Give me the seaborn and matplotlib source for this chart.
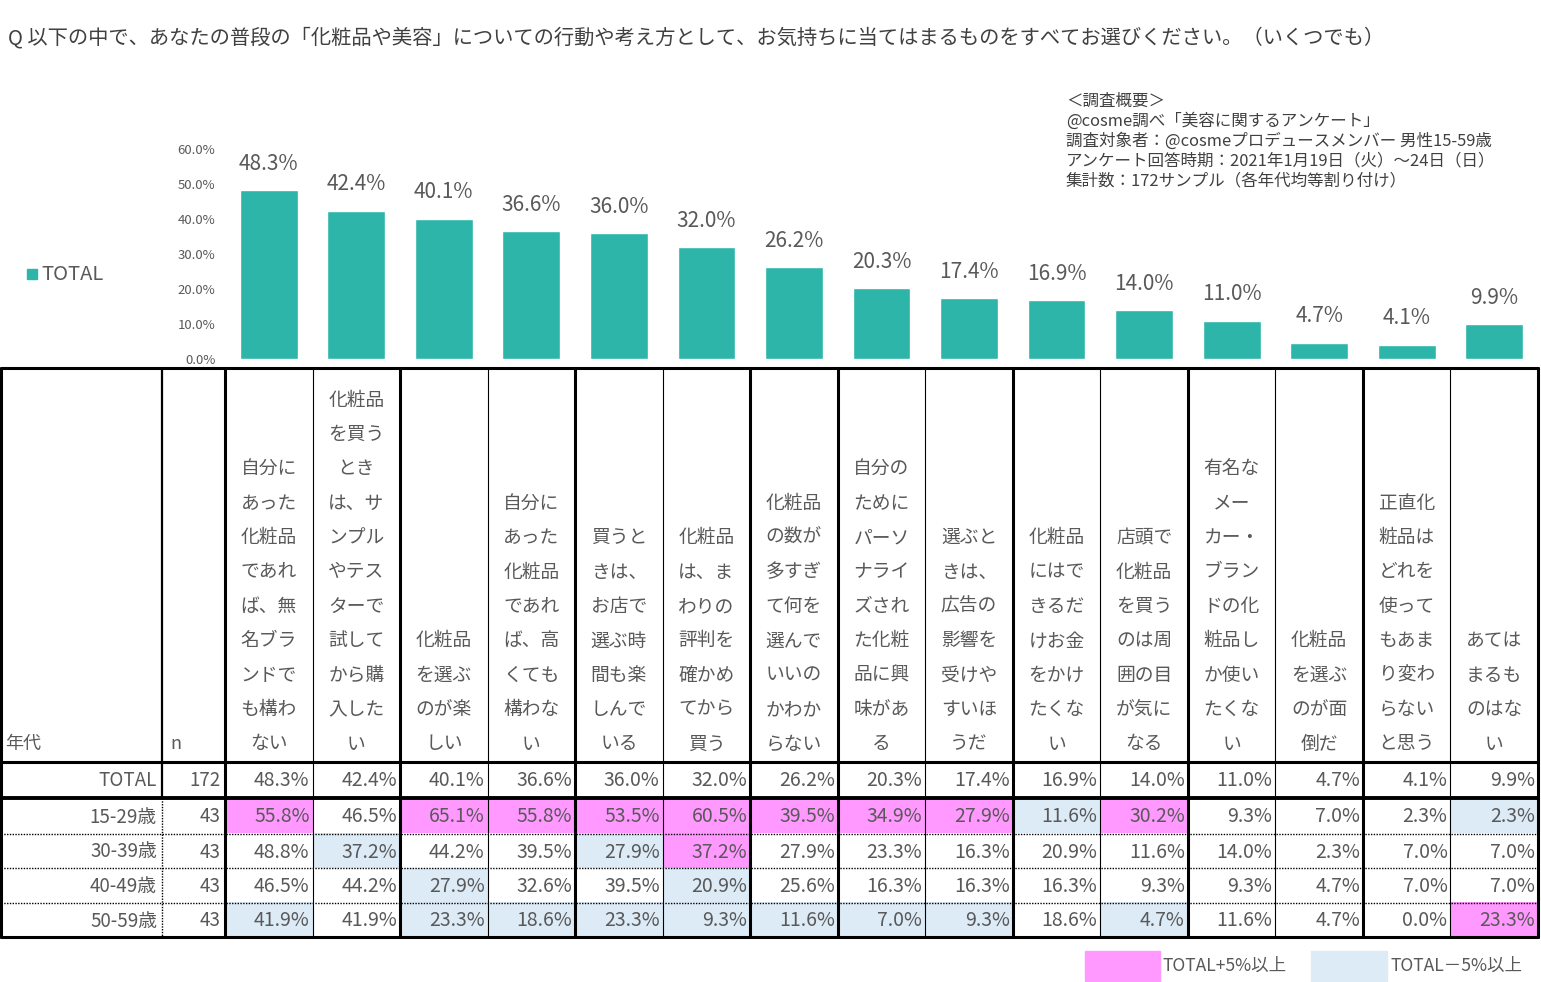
import numpy as np
import pandas as pd
import matplotlib
matplotlib.use("Agg")
import matplotlib.pyplot as plt
import seaborn as sns
from matplotlib.colors import ListedColormap
from matplotlib.patches import Rectangle

# ---------------- data ----------------
categories = [
    "自分に\nあった\n化粧品\nであれ\nば、無\n名ブラ\nンドで\nも構わ\nない",
    "化粧品\nを買う\nとき\nは、サ\nンプル\nやテス\nターで\n試して\nから購\n入した\nい",
    "化粧品\nを選ぶ\nのが楽\nしい",
    "自分に\nあった\n化粧品\nであれ\nば、高\nくても\n構わな\nい",
    "買うと\nきは、\nお店で\n選ぶ時\n間も楽\nしんで\nいる",
    "化粧品\nは、ま\nわりの\n評判を\n確かめ\nてから\n買う",
    "化粧品\nの数が\n多すぎ\nて何を\n選んで\nいいの\nかわか\nらない",
    "自分の\nために\nパーソ\nナライ\nズされ\nた化粧\n品に興\n味があ\nる",
    "選ぶと\nきは、\n広告の\n影響を\n受けや\nすいほ\nうだ",
    "化粧品\nにはで\nきるだ\nけお金\nをかけ\nたくな\nい",
    "店頭で\n化粧品\nを買う\nのは周\n囲の目\nが気に\nなる",
    "有名な\nメー\nカー・\nブラン\nドの化\n粧品し\nか使い\nたくな\nい",
    "化粧品\nを選ぶ\nのが面\n倒だ",
    "正直化\n粧品は\nどれを\n使って\nもあま\nり変わ\nらない\nと思う",
    "あては\nまるも\nのはな\nい",
]
total = [48.3, 42.4, 40.1, 36.6, 36.0, 32.0, 26.2, 20.3, 17.4, 16.9, 14.0, 11.0, 4.7, 4.1, 9.9]
n_total = 172
age_groups = ["15-29歳", "30-39歳", "40-49歳", "50-59歳"]
n_age = [43, 43, 43, 43]
age_15_29 = [55.8, 46.5, 65.1, 55.8, 53.5, 60.5, 39.5, 34.9, 27.9, 11.6, 30.2, 9.3, 7.0, 2.3, 2.3]
age_30_39 = [48.8, 37.2, 44.2, 39.5, 27.9, 37.2, 27.9, 23.3, 16.3, 20.9, 11.6, 14.0, 2.3, 7.0, 7.0]
age_40_49 = [46.5, 44.2, 27.9, 32.6, 39.5, 20.9, 25.6, 16.3, 16.3, 16.3, 9.3, 9.3, 4.7, 7.0, 7.0]
age_50_59 = [41.9, 41.9, 23.3, 18.6, 23.3, 9.3, 11.6, 7.0, 9.3, 18.6, 4.7, 11.6, 4.7, 0.0, 23.3]
y_ticks = [0, 10, 20, 30, 40, 50, 60]

title = "Q 以下の中で、あなたの普段の「化粧品や美容」についての行動や考え方として、お気持ちに当てはまるものをすべてお選びください。（いくつでも）"
summary = [
    "＜調査概要＞",
    "@cosme調べ「美容に関するアンケート」",
    "調査対象者：@cosmeプロデュースメンバー 男性15-59歳",
    "アンケート回答時期：2021年1月19日（火）～24日（日）",
    "集計数：172サンプル（各年代均等割り付け）",
]
legend_labels = ["TOTAL+5%以上", "TOTAL－5%以上"]

# ---------------- style ----------------
sns.set_theme(style="white")
plt.rcParams["font.family"] = ["Noto Sans CJK JP", "DejaVu Sans"]

TEAL = "#2DB5AA"
PINK = "#FF99FF"
BLUE = "#DDEBF7"
GRAY = "#595959"
DARK = "#404040"

W, H = 1541, 982
fig = plt.figure(figsize=(W / 100, H / 100), dpi=100)
fig.patch.set_facecolor("white")

def fx(px):
    return px / W

def fy(py):
    return 1 - py / H

# column layout (pixels)
col_left = 225
col_right = 1538
ncol = len(categories)
col_edges = np.linspace(col_left, col_right, ncol + 1)

# ---------------- bar chart ----------------
bar_top, bar_bottom = 149, 359
ax = fig.add_axes([fx(col_left), fy(bar_bottom), fx(col_right) - fx(col_left),
                   (bar_bottom - bar_top) / H])
df = pd.DataFrame({"cat": categories, "total": total})
sns.barplot(data=df, x="cat", y="total", color=TEAL, width=0.66, ax=ax,
            saturation=1, errorbar=None)
ax.set_xlim(-0.5, ncol - 0.5)
ax.set_ylim(0, 60)
ax.set_yticks(y_ticks)
ax.set_yticklabels([f"{v:.1f}%" for v in y_ticks], fontsize=9.5, color=GRAY)
ax.tick_params(axis="y", length=0, pad=7)
ax.set_xticks([])
ax.set_xlabel("")
ax.set_ylabel("")
for s in ax.spines.values():
    s.set_visible(False)
ax.patch.set_alpha(0)
ax.bar_label(ax.containers[0], labels=[f"{v:.1f}%" for v in total],
             padding=11, fontsize=15, color=GRAY)

# ---------------- heatmap cells for age rows ----------------
rows_y = [762, 798, 834, 868, 903, 937]
age_vals = np.array([age_15_29, age_30_39, age_40_49, age_50_59])
diff = age_vals - np.array(total)[None, :]
flags = np.where(diff >= 4.95, 1, np.where(diff <= -4.95, -1, 0))
hax = fig.add_axes([fx(col_left), fy(rows_y[-1]), fx(col_right) - fx(col_left),
                    (rows_y[-1] - rows_y[1]) / H])
sns.heatmap(flags, ax=hax, cmap=ListedColormap([BLUE, "white", PINK]),
            vmin=-1.5, vmax=1.5, cbar=False, xticklabels=False, yticklabels=False,
            linewidths=0)
hax.axis("off")

# ---------------- overlay (table lines, texts) ----------------
ov = fig.add_axes([0, 0, 1, 1])
ov.set_xlim(0, W)
ov.set_ylim(H, 0)
ov.axis("off")
ov.patch.set_alpha(0)
ov.set_zorder(10)

# title
ov.text(8, 38, title, fontsize=14.6, color=DARK, va="center", ha="left")

# summary block
for i, line in enumerate(summary):
    ov.text(1066, 101 + i * 20, line, fontsize=11.9, color=DARK, va="center", ha="left")

# bar legend
ov.add_patch(Rectangle((27, 269), 10, 10, color=TEAL))
ov.text(41, 275, "TOTAL", fontsize=14.5, color=GRAY, va="center", ha="left")

# table lines
tab_top, tab_bottom = 368, 937
left, x_lab = 1, 162
THICK, MED, THIN = 2.2, 1.6, 0.8
ov.plot([left, col_right], [tab_top, tab_top], color="black", lw=THICK)
ov.plot([left, col_right], [tab_bottom, tab_bottom], color="black", lw=THICK)
ov.plot([left, col_right], [rows_y[0], rows_y[0]], color="black", lw=THICK)
ov.plot([left, col_right], [rows_y[1], rows_y[1]], color="black", lw=2.8)
for yy in rows_y[2:5]:
    ov.plot([left, col_right], [yy, yy], color="black", lw=1.0, ls=(0, (1, 1)))
ov.plot([left, left], [tab_top, tab_bottom], color="black", lw=THICK)
ov.plot([col_right, col_right], [tab_top, tab_bottom], color="black", lw=THICK)
ov.plot([x_lab, x_lab], [tab_top, rows_y[1]], color="black", lw=MED)
ov.plot([x_lab, x_lab], [rows_y[1], tab_bottom], color="black", lw=1.0, ls=(0, (1, 1)))
thick_idx = {0, 2, 4, 6, 7, 9, 11, 13}
for j, xe in enumerate(col_edges[:-1]):
    ov.plot([xe, xe], [tab_top, tab_bottom], color="black",
            lw=(THICK if j in thick_idx else THIN))

# header texts
line_step = 34.4
ov.text(5, 744, "年代", fontsize=13, color=GRAY, va="center", ha="left")
ov.text(170, 744, "n", fontsize=13, color=GRAY, va="center", ha="left")
for j, lab in enumerate(categories):
    lines = lab.split("\n")
    cx = (col_edges[j] + col_edges[j + 1]) / 2
    for k, ln in enumerate(reversed(lines)):
        ov.text(cx, 744 - k * line_step, ln, fontsize=13.5, color=GRAY,
                va="center", ha="center")

# data rows
row_labels = ["TOTAL"] + age_groups
row_n = [n_total] + n_age
row_vals = [total, age_15_29, age_30_39, age_40_49, age_50_59]
for r in range(5):
    cy = (rows_y[r] + rows_y[r + 1]) / 2 + 1
    ov.text(157, cy, row_labels[r], fontsize=13.5, color=GRAY, va="center", ha="right")
    ov.text(221, cy, str(row_n[r]), fontsize=13.5, color=GRAY, va="center", ha="right")
    for j, v in enumerate(row_vals[r]):
        ov.text(col_edges[j + 1] - 3, cy, f"{v:.1f}%", fontsize=14, color=GRAY,
                va="center", ha="right")

# bottom legend
ov.add_patch(Rectangle((1085, 951), 75, 30, color=PINK))
ov.text(1163, 966, legend_labels[0], fontsize=12.6, color=GRAY, va="center", ha="left")
ov.add_patch(Rectangle((1311, 951), 76, 30, color=BLUE))
ov.text(1391, 966, legend_labels[1], fontsize=12.6, color=GRAY, va="center", ha="left")

fig.savefig("out.png", dpi=100, facecolor="white")
